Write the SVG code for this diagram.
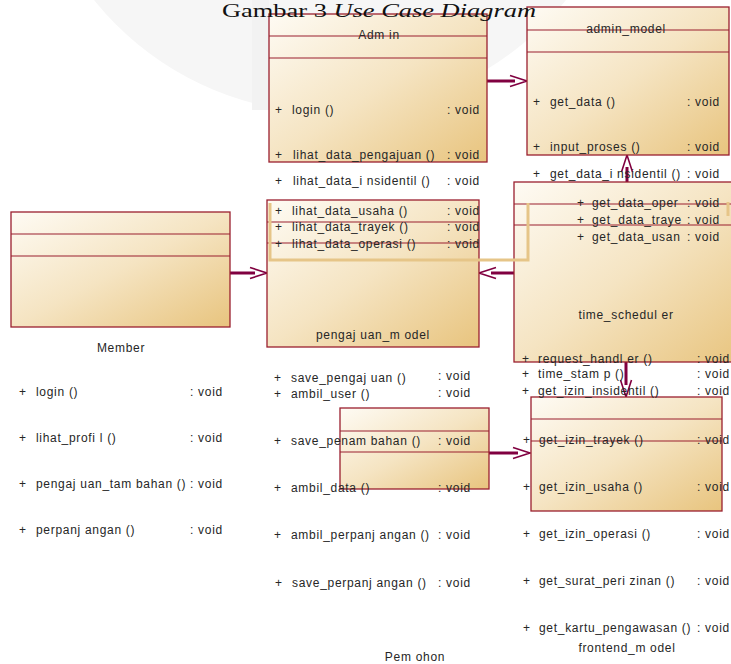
<svg xmlns="http://www.w3.org/2000/svg" width="731" height="664" viewBox="0 0 731 664">
<defs>
<linearGradient id="boxfill" x1="0" y1="0" x2="1" y2="1">
<stop offset="0" stop-color="#fefbf4"/>
<stop offset="0.5" stop-color="#f5e4c2"/>
<stop offset="1" stop-color="#e8c47e"/>
</linearGradient>
<marker id="open" markerUnits="userSpaceOnUse" markerWidth="20" markerHeight="14" refX="5" refY="6.5" orient="auto" overflow="visible">
<path d="M0,1 L17,6.5 L0,12" fill="none" stroke="#800040" stroke-width="1.6"/>
</marker>
<style>
.box{fill:url(#boxfill);stroke:#9a1f2e;stroke-width:1.3}
.sep{stroke:#9a1f2e;stroke-width:1.2}
.t{font-family:"Liberation Sans",Arial,sans-serif;font-size:12px;letter-spacing:0.7px;fill:#262626}
.m{text-anchor:middle}
.con{stroke:#800040;stroke-width:3;fill:none;marker-end:url(#open)}
.hl{fill:none;stroke:#e6c588;stroke-width:3}
</style>
</defs>
<rect x="0" y="0" width="731" height="664" fill="#ffffff"/>
<g id="watermark">
<circle cx="330" cy="-190" r="303" fill="#f6f6f6"/>
<rect x="252" y="0" width="17" height="110" fill="#f2f2f2"/>
</g>

<g id="connectors">
<line class="con" x1="487" y1="81" x2="515" y2="81"/>
<line class="con" x1="230" y1="273" x2="255" y2="273"/>
<line class="con" x1="514" y1="273" x2="491" y2="273"/>
<line class="con" x1="627" y1="182" x2="627" y2="167"/>
<line class="con" x1="626" y1="362" x2="626" y2="385"/>
<line class="con" x1="489" y1="453" x2="518" y2="453"/>
</g>

<g id="member">
<rect class="box" x="11" y="212" width="219" height="115"/>
<line class="sep" x1="11" y1="234" x2="230" y2="234"/>
<line class="sep" x1="11" y1="256" x2="230" y2="256"/>
<text class="t m" x="121" y="352">Member</text>
<text class="t" x="19" y="396">+</text><text class="t" x="36" y="396">login ()</text><text class="t" x="190" y="396">: void</text>
<text class="t" x="19" y="442">+</text><text class="t" x="36" y="442">lihat_profi l ()</text><text class="t" x="190" y="442">: void</text>
<text class="t" x="19" y="488">+</text><text class="t" x="36" y="488">pengaj uan_tam bahan ()</text><text class="t" x="190" y="488">: void</text>
<text class="t" x="19" y="534">+</text><text class="t" x="36" y="534">perpanj angan ()</text><text class="t" x="190" y="534">: void</text>
</g>

<g id="admin">
<rect class="box" x="269" y="14" width="218" height="148"/>
<line class="sep" x1="269" y1="36" x2="487" y2="36"/>
<line class="sep" x1="269" y1="58" x2="487" y2="58"/>
<text class="t m" x="379" y="39">Adm in</text>
<text class="t" x="275" y="114">+</text><text class="t" x="292" y="114">login ()</text><text class="t" x="447" y="114">: void</text>
<text class="t" x="275" y="159">+</text><text class="t" x="293" y="159">lihat_data_pengajuan ()</text><text class="t" x="447" y="159">: void</text>
<text class="t" x="275" y="185">+</text><text class="t" x="293" y="185">lihat_data_i nsidentil ()</text><text class="t" x="447" y="185">: void</text>
</g>

<g id="admin_model">
<rect class="box" x="527" y="7" width="202" height="148"/>
<line class="sep" x1="527" y1="30" x2="729" y2="30"/>
<line class="sep" x1="527" y1="52" x2="729" y2="52"/>
<text class="t m" x="626" y="33">admin_model</text>
<text class="t" x="533" y="106">+</text><text class="t" x="550" y="106">get_data ()</text><text class="t" x="687" y="106">: void</text>
<text class="t" x="533" y="151">+</text><text class="t" x="550" y="151">input_proses ()</text><text class="t" x="687" y="151">: void</text>
<text class="t" x="533" y="178">+</text><text class="t" x="550" y="178">get_data_i nsidentil ()</text><text class="t" x="687" y="178">: void</text>
</g>

<g id="time_scheduler">
<rect class="box" x="514" y="182" width="230" height="180"/>
<line class="sep" x1="514" y1="204" x2="731" y2="204"/>
<line class="sep" x1="514" y1="225" x2="731" y2="225"/>
<text class="t" x="577" y="207">+</text><text class="t" x="592" y="207">get_data_oper</text><text class="t" x="687" y="207">: void</text>
<text class="t" x="577" y="224">+</text><text class="t" x="592" y="224">get_data_traye</text><text class="t" x="687" y="224">: void</text>
<text class="t" x="577" y="241">+</text><text class="t" x="592" y="241">get_data_usan</text><text class="t" x="687" y="241">: void</text>
<text class="t m" x="626" y="319">time_schedul er</text>
<text class="t" x="522" y="363">+</text><text class="t" x="538" y="363">request_handl er ()</text><text class="t" x="697" y="363">: void</text>
<text class="t" x="522" y="378">+</text><text class="t" x="538" y="378">time_stam p ()</text><text class="t" x="697" y="378">: void</text>
</g>

<g id="pengajuan_model">
<rect class="box" x="267" y="200" width="212" height="147"/>
<line class="sep" x1="267" y1="222" x2="479" y2="222"/>
<line class="sep" x1="267" y1="243" x2="479" y2="243"/>
<text class="t" x="275" y="215">+</text><text class="t" x="292" y="215">lihat_data_usaha ()</text><text class="t" x="447" y="215">: void</text>
<text class="t" x="275" y="231">+</text><text class="t" x="292" y="231">lihat_data_trayek ()</text><text class="t" x="447" y="231">: void</text>
<text class="t" x="275" y="248">+</text><text class="t" x="292" y="248">lihat_data_operasi ()</text><text class="t" x="447" y="248">: void</text>
<text class="t m" x="373" y="339">pengaj uan_m odel</text>
</g>

<g id="highlight">
<polyline class="hl" points="270,203 270,260 528,260 528,203"/>
<line class="hl" x1="728" y1="202" x2="728" y2="216"/>
</g>

<g id="pemohon">
<rect class="box" x="340" y="408" width="149" height="81"/>
<line class="sep" x1="340" y1="431" x2="489" y2="431"/>
<line class="sep" x1="340" y1="452" x2="489" y2="452"/>
<text class="t" x="274" y="382">+</text><text class="t" x="291" y="382">save_pengaj uan ()</text><text class="t" x="438" y="380">: void</text>
<text class="t" x="274" y="398">+</text><text class="t" x="291" y="398">ambil_user ()</text><text class="t" x="438" y="397">: void</text>
<text class="t" x="274" y="445">+</text><text class="t" x="291" y="445">save_penam bahan ()</text><text class="t" x="438" y="445">: void</text>
<text class="t" x="274" y="492">+</text><text class="t" x="291" y="492">ambil_data ()</text><text class="t" x="438" y="492">: void</text>
<text class="t" x="274" y="539">+</text><text class="t" x="291" y="539">ambil_perpanj angan ()</text><text class="t" x="438" y="539">: void</text>
<text class="t" x="275" y="587">+</text><text class="t" x="292" y="587">save_perpanj angan ()</text><text class="t" x="438" y="587">: void</text>
<text class="t m" x="415" y="661">Pem ohon</text>
</g>

<g id="frontend_model">
<rect class="box" x="531" y="397" width="191" height="114"/>
<line class="sep" x1="531" y1="419" x2="722" y2="419"/>
<line class="sep" x1="531" y1="441" x2="722" y2="441"/>
<text class="t" x="522" y="395">+</text><text class="t" x="538" y="395">get_izin_insidentil ()</text><text class="t" x="697" y="395">: void</text>
<text class="t" x="523" y="444">+</text><text class="t" x="539" y="444">get_izin_trayek ()</text><text class="t" x="697" y="444">: void</text>
<text class="t" x="523" y="491">+</text><text class="t" x="539" y="491">get_izin_usaha ()</text><text class="t" x="697" y="491">: void</text>
<text class="t" x="523" y="538">+</text><text class="t" x="539" y="538">get_izin_operasi ()</text><text class="t" x="697" y="538">: void</text>
<text class="t" x="523" y="585">+</text><text class="t" x="539" y="585">get_surat_peri zinan ()</text><text class="t" x="697" y="585">: void</text>
<text class="t" x="523" y="632">+</text><text class="t" x="539" y="632">get_kartu_pengawasan ()</text><text class="t" x="697" y="632">: void</text>
<text class="t m" x="627" y="652">frontend_m odel</text>
</g>

<text x="222" y="16.5" font-family="'Liberation Serif','Times New Roman',serif" font-size="18" textLength="314" lengthAdjust="spacingAndGlyphs" fill="#111">Gambar 3 <tspan font-style="italic">Use Case Diagram</tspan></text>
</svg>
